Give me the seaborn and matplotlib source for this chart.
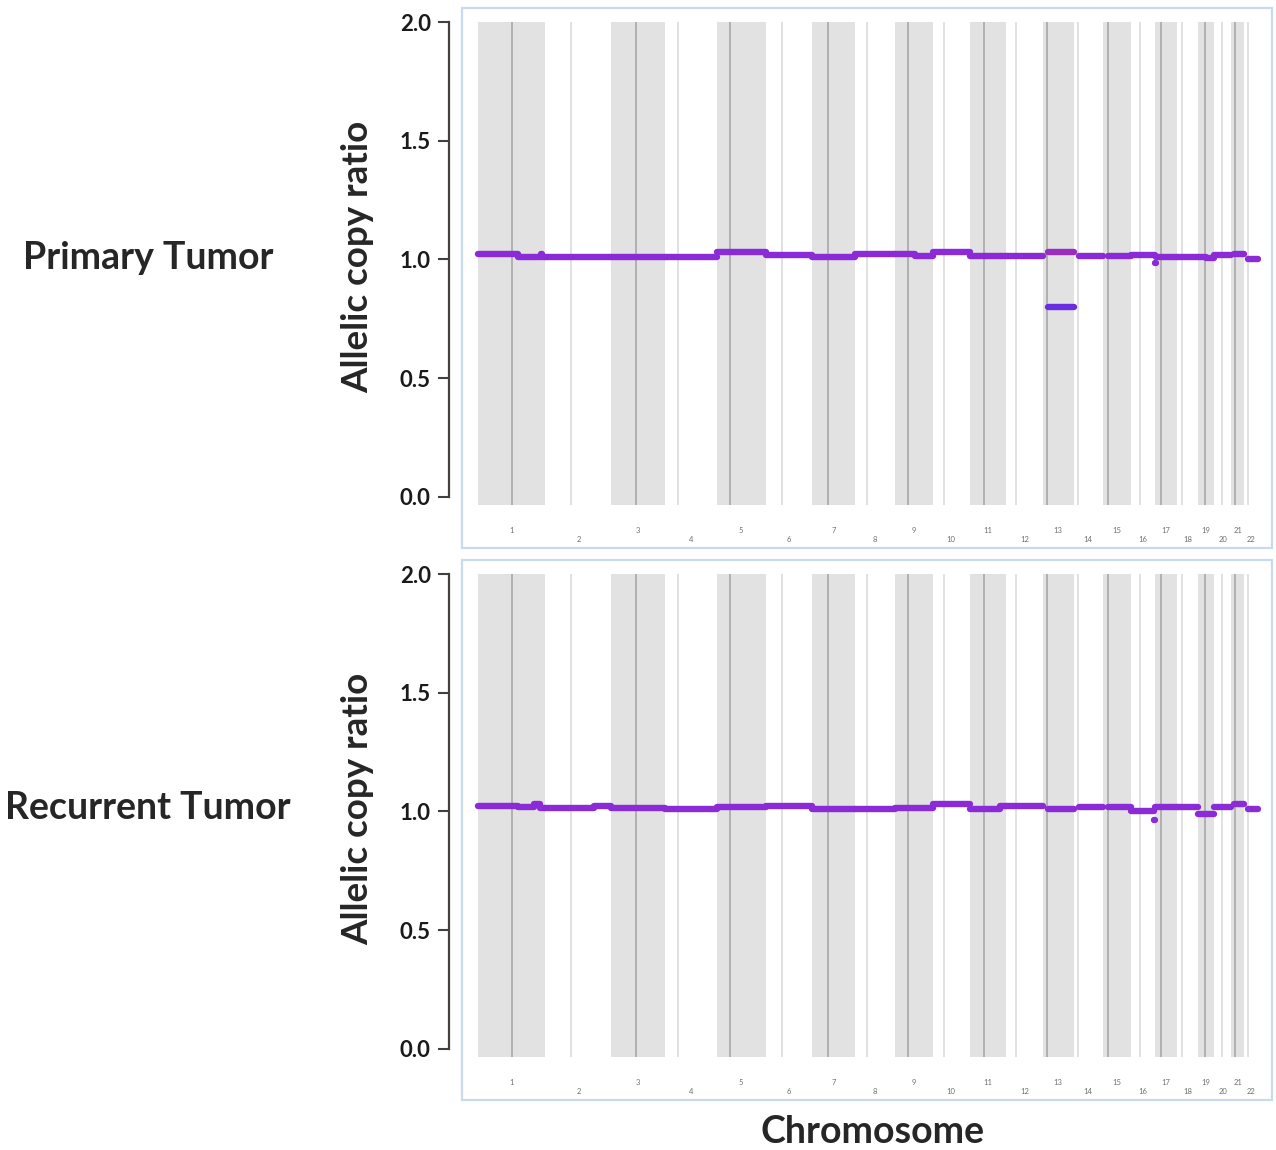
import numpy as np
import pandas as pd
import seaborn as sns
import matplotlib.pyplot as plt
from matplotlib.patches import Rectangle

# chromosome lengths and centromere positions (Mb)
chroms = [str(i) for i in range(1, 23)]
chrom_len = [249, 243, 198, 191, 181, 171, 159, 146, 141, 136, 135,
             134, 115, 107, 103, 90, 81, 78, 59, 63, 48, 51]
centromere = [125, 93, 91, 50, 48, 59, 59, 45, 49, 40, 53,
              35, 17, 17, 19, 36, 24, 17, 26, 28, 13, 14]

# segments: chromosome, start (Mb), end (Mb), allelic copy ratio, kind
primary_chrom = [1, 1, 1, 1, 2, 3, 4, 5, 6, 7, 8, 9, 9, 10, 11, 11, 12,
                 13, 13, 14, 15, 16, 17, 17, 18, 19, 19, 20, 21, 22]
primary_start = [0, 148, 232, 236, 0, 0, 0, 0, 0, 0, 0, 0, 75, 0, 0, 60, 0,
                 19, 19, 20, 20, 0, 0, 3, 0, 0, 30, 0, 12, 16]
primary_end = [148, 232, 236, 249, 243, 198, 191, 181, 171, 159, 146, 75, 141, 136, 60, 135, 134,
               115, 115, 107, 103, 90, 3, 81, 78, 30, 59, 63, 48, 51]
primary_ratio = [1.022, 1.012, 1.022, 1.010, 1.010, 1.010, 1.010, 1.030, 1.020, 1.012, 1.025,
                 1.025, 1.013, 1.030, 1.016, 1.014, 1.014,
                 1.030, 0.800, 1.015, 1.015, 1.020, 0.985, 1.012, 1.012, 1.012, 1.005,
                 1.020, 1.022, 1.003]
primary_kind = ["mix"] * 17 + ["major", "minor"] + ["mix"] * 11

recurrent_chrom = [1, 1, 1, 1, 2, 2, 3, 4, 5, 6, 7, 8, 9, 10, 11, 11, 12,
                   13, 14, 15, 16, 16, 17, 18, 19, 20, 21, 22]
recurrent_start = [0, 148, 208, 228, 0, 181, 0, 0, 0, 0, 0, 0, 0, 0, 0, 112, 0,
                   19, 20, 20, 0, 88, 0, 0, 0, 0, 12, 16]
recurrent_end = [148, 208, 228, 249, 181, 243, 198, 191, 181, 171, 159, 146, 141, 136, 112, 135, 134,
                 115, 107, 103, 88, 90, 81, 78, 59, 63, 48, 51]
recurrent_ratio = [1.025, 1.018, 1.030, 1.014, 1.014, 1.025, 1.013, 1.012, 1.018, 1.022, 1.012,
                   1.012, 1.014, 1.032, 1.011, 1.021, 1.021,
                   1.011, 1.018, 1.020, 1.004, 0.962, 1.018, 1.020, 0.990, 1.020, 1.033, 1.010]
recurrent_kind = ["mix"] * 28

offsets = np.concatenate([[0], np.cumsum(chrom_len)[:-1]])
genome_len = sum(chrom_len)


def make_df(chrom, start, end, ratio, kind):
    rows = []
    for i in range(len(chrom)):
        off = offsets[chrom[i] - 1]
        rows.append({"seg": i, "pos": off + start[i], "ratio": ratio[i], "kind": kind[i]})
        rows.append({"seg": i, "pos": off + end[i], "ratio": ratio[i], "kind": kind[i]})
    return pd.DataFrame(rows)


palette = {"mix": "#8b2bd8", "major": "#9a2cc0", "minor": "#6a2ee2"}

sns.set_style("white")
plt.rcParams["font.family"] = ["Lato", "DejaVu Sans"]

fig = plt.figure(figsize=(12.76, 11.5), dpi=100)
W, H = 1276, 1150

panels = [
    ("Primary Tumor", make_df(primary_chrom, primary_start, primary_end, primary_ratio, primary_kind), 8, 258),
    ("Recurrent Tumor", make_df(recurrent_chrom, recurrent_start, recurrent_end, recurrent_ratio, recurrent_kind), 560, 808),
]

for title, df, top_px, title_y in panels:
    ax_h = 497
    ax = fig.add_axes([462 / W, 1 - (top_px + ax_h) / H, 810 / W, ax_h / H])
    ylo, yhi = -0.035, 2.06
    ax.set_xlim(-59, genome_len + 52)
    ax.set_ylim(ylo, yhi)

    # chromosome bands and centromeres
    for i in range(22):
        s = offsets[i]
        if i % 2 == 0:
            ax.bar(s + chrom_len[i] / 2, 2.0 - ylo, bottom=ylo, width=chrom_len[i],
                   color="#e2e2e2", edgecolor="none", zorder=0)
            ax.vlines(s + centromere[i], ylo, 2.0, color="#a8a8a8", lw=1.2, zorder=1)
        else:
            ax.vlines(s + centromere[i], ylo, 2.0, color="#dcdcdc", lw=1.2, zorder=1)

    sns.lineplot(data=df, x="pos", y="ratio", hue="kind", units="seg", estimator=None,
                 palette=palette, lw=4.6, legend=False, ax=ax, zorder=3,
                 solid_capstyle="round")

    for side in ["top", "right", "bottom"]:
        ax.spines[side].set_visible(False)
    # spine position resets ticks, so do it before styling them
    ax.spines["left"].set_position(("outward", 9.5))
    ax.spines["left"].set_bounds(0, 2.0)
    ax.spines["left"].set_linewidth(1.6)
    ax.spines["left"].set_color("#404040")

    # x labels at chromosome centres, odd ones higher than even ones
    centers = offsets + np.array(chrom_len) / 2
    ax.set_xticks(centers[0::2])
    ax.set_xticklabels(chroms[0::2])
    ax.set_xticks(centers[1::2], minor=True)
    ax.set_xticklabels(chroms[1::2], minor=True)
    ax.tick_params(axis="x", which="major", length=0, pad=16, labelsize=5.5, labelcolor="#707070")
    ax.tick_params(axis="x", which="minor", length=0, pad=22, labelsize=5.5, labelcolor="#707070")

    ax.set_yticks([0.0, 0.5, 1.0, 1.5, 2.0])
    ax.tick_params(axis="y", which="major", left=True, length=8, width=1.5, pad=5,
                   labelsize=16, color="#404040", labelcolor="#1a1a1a")
    ax.set_yticklabels(["0.0", "0.5", "1.0", "1.5", "2.0"], fontweight="bold", fontsize=16)

    # light blue frame around the plot
    box_bottom = -(43 / ax_h)
    ax.add_patch(Rectangle((0, box_bottom), 1, 1 - box_bottom, transform=ax.transAxes,
                           fill=False, edgecolor="#c9daf0", lw=1.6, clip_on=False, zorder=5))

    ax.set_xlabel("")
    ax.set_ylabel("Allelic copy ratio", fontsize=26.5, fontweight="bold", labelpad=18)

    fig.text(148 / W, 1 - title_y / H, title, fontsize=27, fontweight="bold",
             ha="center", va="center")

fig.text(872 / W, 1 - 1132 / H, "Chromosome", fontsize=27, fontweight="bold",
         ha="center", va="center")

fig.savefig("out.png", dpi=100)
